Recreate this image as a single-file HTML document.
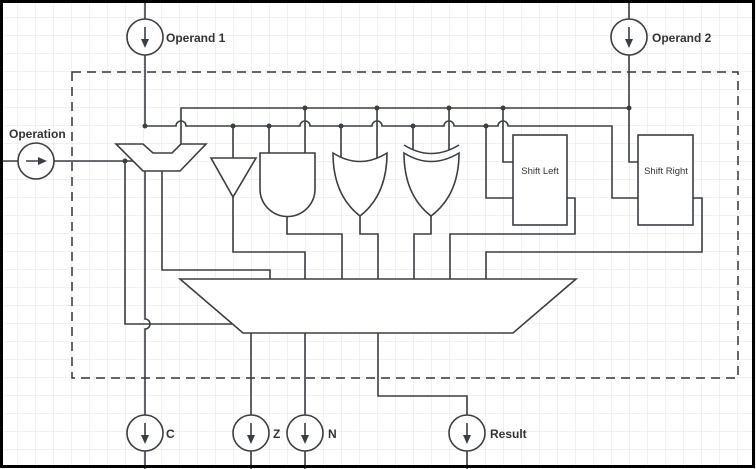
<!DOCTYPE html>
<html><head><style>
html,body{margin:0;padding:0;background:#fff;}
svg{display:block;}
text{font-family:"Liberation Sans",sans-serif;fill:#333;}
</style></head><body>
<svg width="756" height="469" viewBox="0 0 756 469" xmlns="http://www.w3.org/2000/svg">
<defs>
<pattern id="g" width="18" height="18" patternUnits="userSpaceOnUse">
<path d="M18 0V18M0 18H18" fill="none" stroke="#e3e3e3" stroke-width="1"/>
</pattern>
</defs>
<rect width="756" height="469" fill="#fff"/>
<rect width="756" height="469" fill="url(#g)"/>
<rect x="72" y="72" width="666" height="306" fill="none" stroke="#333" stroke-width="1.5" stroke-dasharray="9,6"/>
<g fill="none" stroke="#3a3f44" stroke-width="1.6">
<path d="M145 0V19M145 55V126"/>
<path d="M629 0V19M629 55V162H638"/>
<path d="M181 144V108H629"/>
<path d="M145 126H176a5 5 0 0 1 10 0H300a5 5 0 0 1 10 0H372a5 5 0 0 1 10 0H444a5 5 0 0 1 10 0H498a5 5 0 0 1 10 0H612V198H638"/>
<path d="M233 126V158M269 126V153M305 108V153M341 126V158M377 108V158M413 126V150M449 108V150M503 108V162H513M486 126V198H513"/>
<path d="M211 158H256L233 197Z" fill="#fff"/>
<path d="M260 153H315V189A27.5 27.5 0 0 1 260 189Z" fill="#fff"/>
<path d="M333 153Q360 170 387 153Q387 195 360 216Q333 195 333 153Z" fill="#fff"/>
<path d="M404 153Q431 170 459 153Q459 195 431 216Q404 195 404 153Z" fill="#fff"/>
<path d="M404 145Q431 162 459 145"/>
<rect x="513" y="135" width="54" height="90" fill="#fff"/>
<rect x="638" y="135" width="55" height="90" fill="#fff"/>
<path d="M233 197V252H305V279"/>
<path d="M287 216V234H342V279"/>
<path d="M360 216V234H378V279"/>
<path d="M431 216V234H414V279"/>
<path d="M567 198H575V234H450V279"/>
<path d="M693 198H702V252H486V279"/>
<path d="M162 171V270H270V279"/>
<path d="M116 144H143L153 153H172L181 144H206L180 171H143Z" fill="#fff"/>
<path d="M0 161H18M54 161H133"/>
<path d="M125 161V324H232"/>
<path d="M145 171V319a5 5 0 0 1 0 10V415M145 451V469"/>
<path d="M180 279H576L513 333H243Z" fill="#fff"/>
<path d="M251 333V415M251 451V469M305 333V415M305 451V469M378 333V396H467V415M467 451V469"/>
<circle cx="145" cy="37" r="18" fill="#fff"/>
<circle cx="629" cy="37" r="18" fill="#fff"/>
<circle cx="36" cy="161" r="18" fill="#fff"/>
<circle cx="145" cy="433" r="18" fill="#fff"/>
<circle cx="251" cy="433" r="18" fill="#fff"/>
<circle cx="305" cy="433" r="18" fill="#fff"/>
<circle cx="467" cy="433" r="18" fill="#fff"/>
<path d="M145 27V43M629 27V43M145 423V439M251 423V439M305 423V439M467 423V439M26 161H40"/>
</g>
<g fill="#3a3f44">
<path d="M141 39H149L145 48Z"/><path d="M625 39H633L629 48Z"/>
<path d="M141 435H149L145 444Z"/><path d="M247 435H255L251 444Z"/>
<path d="M301 435H309L305 444Z"/><path d="M463 435H471L467 444Z"/>
<path d="M38 157V165L47 161Z"/>
<circle cx="145" cy="126" r="2.5"/><circle cx="233" cy="126" r="2.5"/><circle cx="269" cy="126" r="2.5"/>
<circle cx="341" cy="126" r="2.5"/><circle cx="413" cy="126" r="2.5"/><circle cx="486" cy="126" r="2.5"/>
<circle cx="305" cy="108" r="2.5"/><circle cx="377" cy="108" r="2.5"/><circle cx="449" cy="108" r="2.5"/>
<circle cx="503" cy="108" r="2.5"/><circle cx="629" cy="108" r="2.5"/><circle cx="125" cy="161" r="2.5"/>
</g>
<g font-size="12" font-weight="bold">
<text x="166" y="42">Operand 1</text>
<text x="652" y="42">Operand 2</text>
<text x="9" y="138">Operation</text>
<text x="166" y="438">C</text>
<text x="273" y="438">Z</text>
<text x="328" y="438">N</text>
<text x="490" y="438">Result</text>
</g>
<g font-size="9.5">
<text x="540" y="174" text-anchor="middle">Shift Left</text>
<text x="666" y="174" text-anchor="middle">Shift Right</text>
</g>
<rect x="1.5" y="1.5" width="752" height="465" fill="none" stroke="#000" stroke-width="3"/>
</svg>
</body></html>
